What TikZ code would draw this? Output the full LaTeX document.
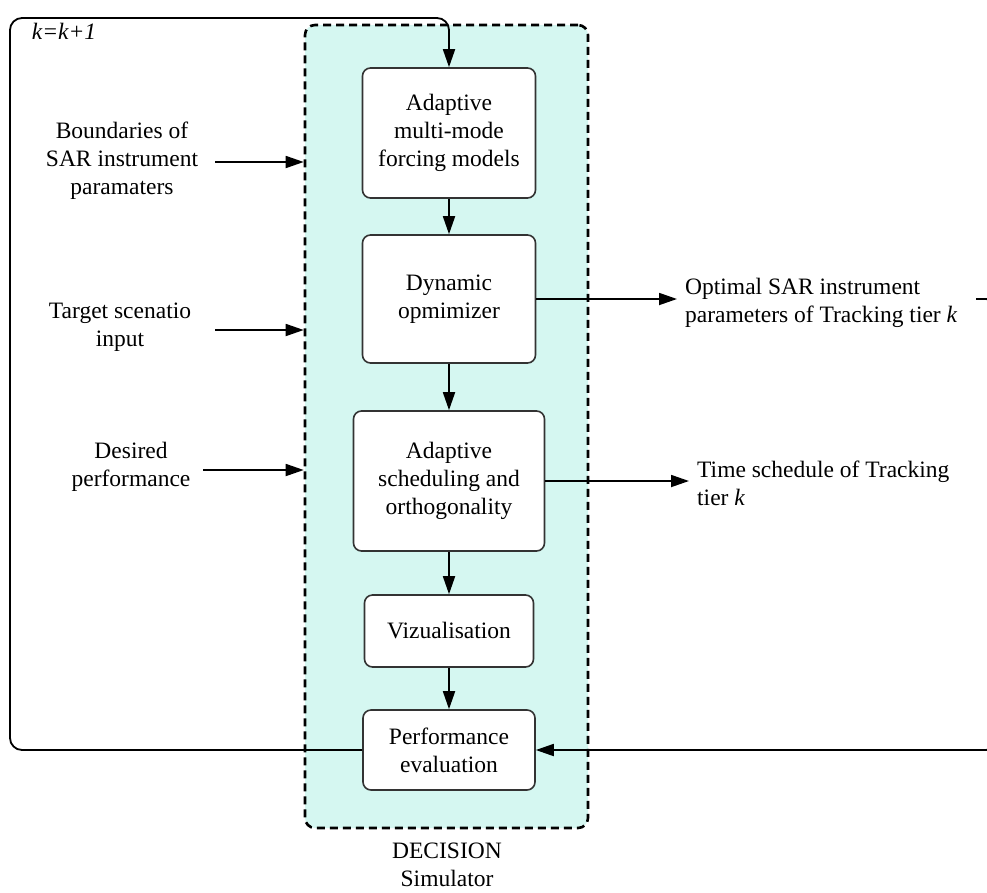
\documentclass[tikz,border=0pt]{standalone}
\usepackage{fontspec}
\setmainfont{Liberation Serif}
\usepackage{tikz}
\usetikzlibrary{arrows.meta,positioning,calc}
\definecolor{simfill}{RGB}{213,247,241}
\definecolor{boxline}{RGB}{51,51,51}

\begin{document}
\begin{tikzpicture}[
  x=1pt,y=-1pt,
  font=\fontsize{23.5}{28}\selectfont,
  blk/.style={draw=boxline,line width=1.6pt,fill=white,rounded corners=8pt,
    align=center,inner sep=0pt},
  lbl/.style={align=center,inner sep=0pt},
  olbl/.style={align=left,anchor=west,inner sep=8pt},
  arr/.style={-{Triangle[length=18pt,width=12pt]},line width=1.8pt},
]
  \useasboundingbox (0,0) rectangle (987,892);

  % simulator frame
  \node[draw,dashed,line width=2.6pt,dash pattern=on 8pt off 5pt,fill=simfill,
    rounded corners=10pt,minimum width=283pt,minimum height=803pt,inner sep=0pt]
    (sim) at (446.5,426.5) {};
  \node[lbl] (simname) at (447,865) {DECISION\\Simulator};

  % blocks
  \node[blk,minimum width=173pt,minimum height=130pt] (forcing) at (449,133)
    {Adaptive\\multi-mode\\forcing models};
  \node[blk,minimum width=173pt,minimum height=128pt] (opt) at (449,299)
    {Dynamic\\opmimizer};
  \node[blk,minimum width=191pt,minimum height=140pt] (sched) at (449,481)
    {Adaptive\\scheduling and\\orthogonality};
  \node[blk,minimum width=169pt,minimum height=72pt] (viz) at (449,631)
    {Vizualisation};
  \node[blk,minimum width=172pt,minimum height=80pt] (perf) at (449,750)
    {Performance\\evaluation};

  \draw[arr] (forcing.south) -- (opt.north);
  \draw[arr] (opt.south) -- (sched.north);
  \draw[arr] (sched.south) -- (viz.north);
  \draw[arr] (viz.south) -- (perf.north);

  % inputs
  \node[lbl] (bounds) at (122,161) {Boundaries of\\SAR instrument\\paramaters};
  \node[lbl] (target) at (120,327) {Target scenatio\\input};
  \node[lbl] (desired) at (131,467) {Desired\\performance};
  \coordinate (s1) at (215,162);
  \coordinate (s2) at (215,330);
  \coordinate (s3) at (203,470);
  \draw[arr] (s1) -- (s1 -| sim.west);
  \draw[arr] (s2) -- (s2 -| sim.west);
  \draw[arr] (s3) -- (s3 -| sim.west);

  % outputs
  \node[olbl] (params) at (677,303) {Optimal SAR instrument\\parameters of Tracking tier \textit{k}};
  \node[olbl] (times) at (689,483) {Time schedule of Tracking\\tier \textit{k}};
  \draw[arr] (opt.east) -- (opt.east -| params.west);
  \draw[arr] (sched.east) -- (sched.east -| times.west);

  % feedback loops
  \coordinate (rs) at (976,299);
  \coordinate (rc) at (996,750);
  \draw[arr,rounded corners=10pt] (rs) -| (rc) -- (perf.east);
  \coordinate (lc) at (10,18);
  \draw[arr,rounded corners=12pt] (perf.west) -| (lc) -| (forcing.north);
  \node[lbl] (iter) at (64,31) {\textit{k=k+1}};
\end{tikzpicture}
\end{document}
